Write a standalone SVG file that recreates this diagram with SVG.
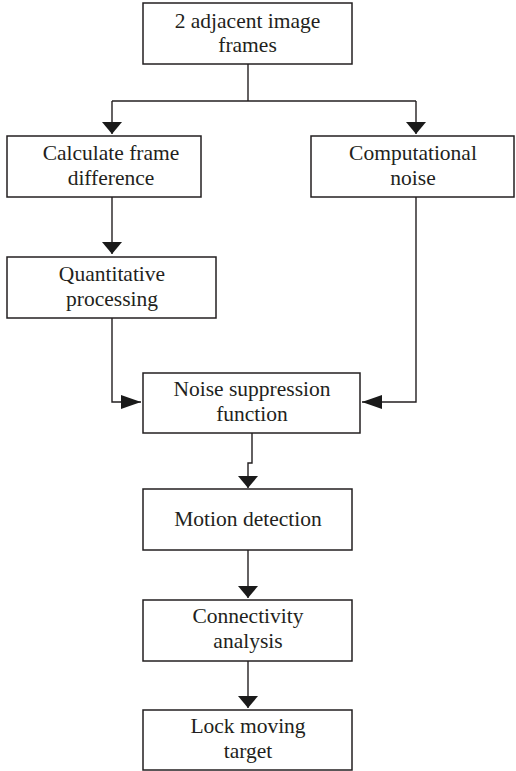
<svg xmlns="http://www.w3.org/2000/svg" width="516" height="771" viewBox="0 0 516 771">
  <style>
    .box { fill: #ffffff; stroke: #231f20; stroke-width: 1.5; }
    .lbl { font-family: "Liberation Serif", "Times New Roman", serif; font-size: 21.5px; fill: #231f20; text-anchor: middle; }
    .wire { fill: none; stroke: #231f20; stroke-width: 1.4; }
  </style>
  <defs>
    <!-- short, wide head for the downward arrows -->
    <marker id="arrow-v" viewBox="0 0 12 20" refX="12" refY="10" markerWidth="12" markerHeight="20" markerUnits="userSpaceOnUse" orient="auto">
      <path d="M0,0 L12,10 L0,20 Z" fill="#1a1a1a"/>
    </marker>
    <!-- longer, narrower head for the sideways arrows -->
    <marker id="arrow-h" viewBox="0 0 20 14" refX="20" refY="7" markerWidth="20" markerHeight="14" markerUnits="userSpaceOnUse" orient="auto">
      <path d="M0,0 L20,7 L0,14 Z" fill="#1a1a1a"/>
    </marker>
  </defs>
  <rect width="516" height="771" fill="#ffffff"/>

  <g id="connectors">
    <polyline class="wire" points="248,64 248,101"/>
    <polyline class="wire" points="112,101 416,101"/>
    <polyline class="wire" points="112,101 112,134" marker-end="url(#arrow-v)"/>
    <polyline class="wire" points="416,101 416,134" marker-end="url(#arrow-v)"/>
    <polyline class="wire" points="112,197 112,254" marker-end="url(#arrow-v)"/>
    <polyline class="wire" points="112,318 112,402 141,402" marker-end="url(#arrow-h)"/>
    <polyline class="wire" points="416,197 416,402 362,402" marker-end="url(#arrow-h)"/>
    <polyline class="wire" points="252,433 252,463 248,463 248,488" marker-end="url(#arrow-v)"/>
    <polyline class="wire" points="248,550 248,598" marker-end="url(#arrow-v)"/>
    <polyline class="wire" points="248,661 248,708" marker-end="url(#arrow-v)"/>
  </g>

  <g id="node-frames">
    <rect class="box" x="143" y="3" width="209" height="61"/>
    <text class="lbl" x="247.5" y="28">2 adjacent image</text>
    <text class="lbl" x="247.5" y="52">frames</text>
  </g>

  <g id="node-frame-difference">
    <rect class="box" x="7" y="136" width="194" height="61"/>
    <text class="lbl" x="111" y="160">Calculate frame</text>
    <text class="lbl" x="111" y="185">difference</text>
  </g>

  <g id="node-noise">
    <rect class="box" x="311" y="136" width="203" height="61"/>
    <text class="lbl" x="413" y="160">Computational</text>
    <text class="lbl" x="413" y="185">noise</text>
  </g>

  <g id="node-quantitative">
    <rect class="box" x="7" y="257" width="209" height="61"/>
    <text class="lbl" x="112" y="281">Quantitative</text>
    <text class="lbl" x="112" y="306">processing</text>
  </g>

  <g id="node-suppression">
    <rect class="box" x="143" y="373" width="217" height="60"/>
    <text class="lbl" x="252" y="396">Noise suppression</text>
    <text class="lbl" x="252" y="421">function</text>
  </g>

  <g id="node-motion">
    <rect class="box" x="143" y="489" width="209" height="61"/>
    <text class="lbl" x="248" y="526">Motion detection</text>
  </g>

  <g id="node-connectivity">
    <rect class="box" x="143" y="600" width="209" height="61"/>
    <text class="lbl" x="248" y="623">Connectivity</text>
    <text class="lbl" x="248" y="648">analysis</text>
  </g>

  <g id="node-lock">
    <rect class="box" x="143" y="710" width="209" height="60"/>
    <text class="lbl" x="248" y="733">Lock moving</text>
    <text class="lbl" x="248" y="758">target</text>
  </g>
</svg>
